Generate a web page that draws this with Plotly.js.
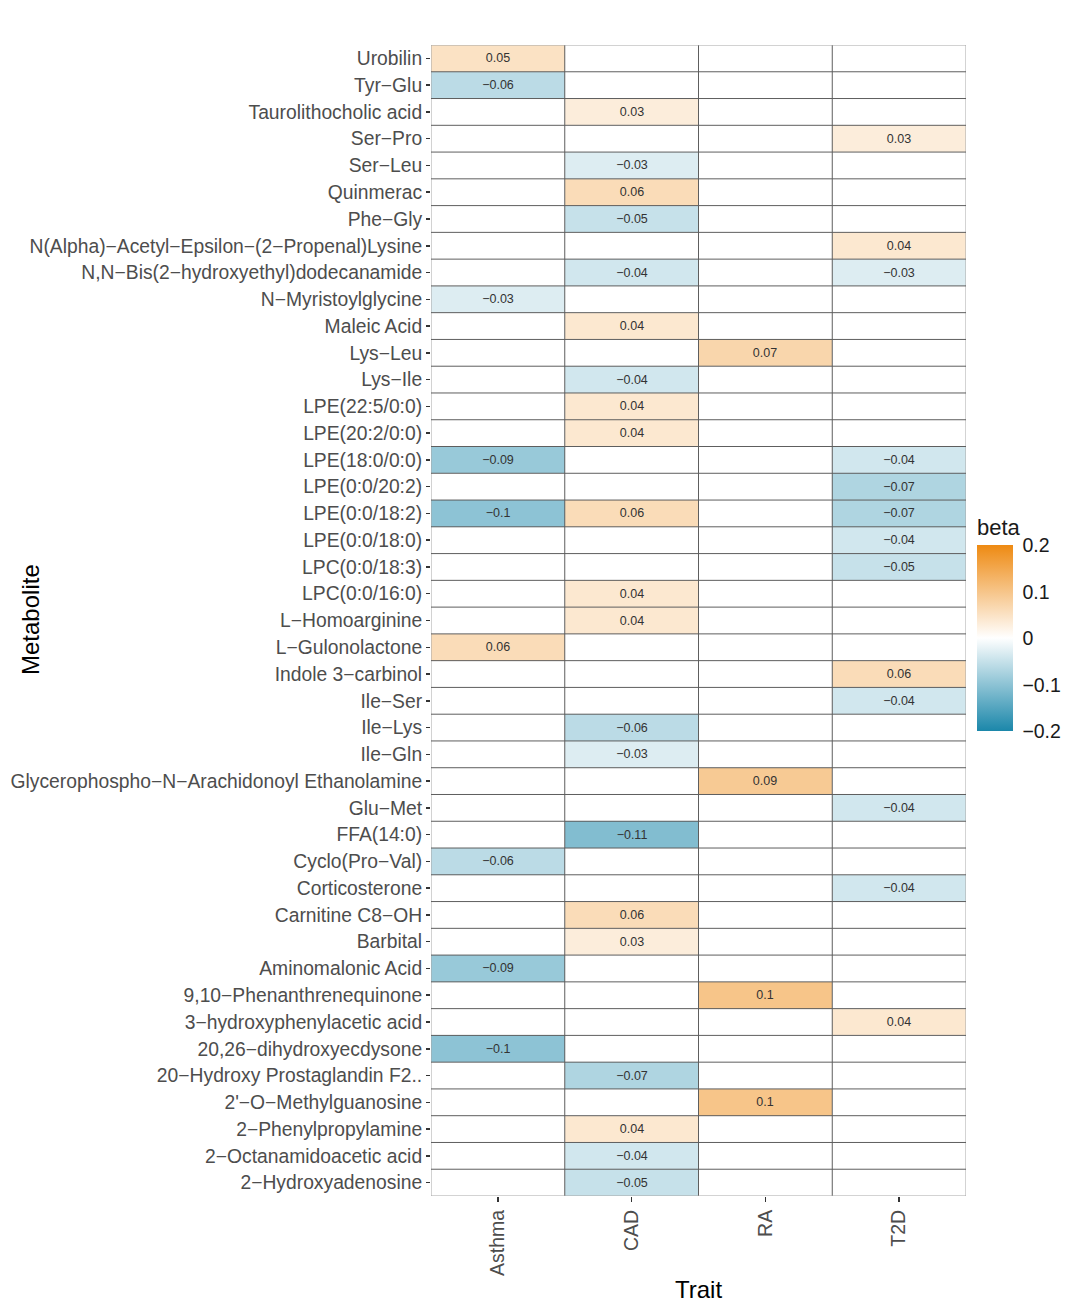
<!DOCTYPE html>
<html>
<head>
<meta charset="utf-8">
<script src="https://cdn.plot.ly/plotly-3.0.1.min.js"></script>
<style>html,body{margin:0;padding:0;background:#fff;}#chart{width:1080px;height:1316px;}</style>
</head>
<body>
<div id="chart"></div>
<script>
const metabolites = [
  "Urobilin", "Tyr-Glu", "Taurolithocholic acid", "Ser-Pro", "Ser-Leu", "Quinmerac", "Phe-Gly",
  "N(Alpha)-Acetyl-Epsilon-(2-Propenal)Lysine", "N,N-Bis(2-hydroxyethyl)dodecanamide", "N-Myristoylglycine",
  "Maleic Acid", "Lys-Leu", "Lys-Ile", "LPE(22:5/0:0)", "LPE(20:2/0:0)", "LPE(18:0/0:0)", "LPE(0:0/20:2)",
  "LPE(0:0/18:2)", "LPE(0:0/18:0)", "LPC(0:0/18:3)", "LPC(0:0/16:0)", "L-Homoarginine", "L-Gulonolactone",
  "Indole 3-carbinol", "Ile-Ser", "Ile-Lys", "Ile-Gln", "Glycerophospho-N-Arachidonoyl Ethanolamine",
  "Glu-Met", "FFA(14:0)", "Cyclo(Pro-Val)", "Corticosterone", "Carnitine C8-OH", "Barbital",
  "Aminomalonic Acid", "9,10-Phenanthrenequinone", "3-hydroxyphenylacetic acid", "20,26-dihydroxyecdysone",
  "20-Hydroxy Prostaglandin F2..", "2'-O-Methylguanosine", "2-Phenylpropylamine", "2-Octanamidoacetic acid",
  "2-Hydroxyadenosine"
];
const traits = ["Asthma", "CAD", "RA", "T2D"];

const asthma = [
  0.05, -0.06, null, null, null, null, null, null, null, -0.03,
  null, null, null, null, null, -0.09, null, -0.1, null, null,
  null, null, 0.06, null, null, null, null, null, null, null,
  -0.06, null, null, null, -0.09, null, null, -0.1, null, null,
  null, null, null
];
const cad = [
  null, null, 0.03, null, -0.03, 0.06, -0.05, null, -0.04, null,
  0.04, null, -0.04, 0.04, 0.04, null, null, 0.06, null, null,
  0.04, 0.04, null, null, null, -0.06, -0.03, null, null, -0.11,
  null, null, 0.06, 0.03, null, null, null, null, -0.07, null,
  0.04, -0.04, -0.05
];
const ra = [
  null, null, null, null, null, null, null, null, null, null,
  null, 0.07, null, null, null, null, null, null, null, null,
  null, null, null, null, null, null, null, 0.09, null, null,
  null, null, null, null, null, 0.1, null, null, null, 0.1,
  null, null, null
];
const t2d = [
  null, null, null, 0.03, null, null, null, 0.04, -0.03, null,
  null, null, null, null, null, -0.04, -0.07, -0.07, -0.04, -0.05,
  null, null, null, 0.06, -0.04, null, null, null, -0.04, null,
  null, -0.04, null, null, null, null, 0.04, null, null, null,
  null, null, null
];
const legendTicks = [-0.2, -0.1, 0, 0.1, 0.2];

const minus = s => String(s).replace(/-/g, "\u2212");
const series = [asthma, cad, ra, t2d];
const z = metabolites.map((m, i) => series.map(s => s[i]));
const txt = z.map(r => r.map(v => v === null ? "" : minus(v)));

const FONT = "Liberation Sans, Arial, sans-serif";
const nR = metabolites.length, nC = traits.length;

const shapes = [];
for (let c = 0; c <= nC; c++) {
  const outer = (c === 0 || c === nC);
  shapes.push({type: "line", xref: "x", yref: "y", x0: c - 0.5, x1: c - 0.5, y0: -0.5, y1: nR - 0.5,
    line: {color: outer ? "#a6a6a6" : "#5e5e5e", width: 1}, layer: "above"});
}
for (let r = 0; r <= nR; r++) {
  const outer = (r === 0 || r === nR);
  shapes.push({type: "line", xref: "x", yref: "y", x0: -0.5, x1: nC - 0.5, y0: r - 0.5, y1: r - 0.5,
    line: {color: outer ? "#a6a6a6" : "#5e5e5e", width: 1}, layer: "above"});
}

const trace = {
  type: "heatmap",
  x: traits,
  y: metabolites,
  z: z,
  text: txt,
  texttemplate: "%{text}",
  textfont: {family: FONT, size: 12.5, color: "#333333"},
  zmin: -0.2, zmax: 0.2,
  colorscale: [[0, "#1B87AA"], [0.5, "#FFFFFF"], [1, "#EE8A12"]],
  hoverongaps: false,
  colorbar: {
    title: {text: "beta", side: "top", font: {family: FONT, size: 22, color: "#1a1a1a"}},
    tickvals: legendTicks,
    ticktext: legendTicks.map(minus),
    tickfont: {family: FONT, size: 19.5, color: "#1a1a1a"},
    ticks: "outside", ticklen: 6, tickcolor: "#ffffff", tickwidth: 1,
    thickness: 36, thicknessmode: "pixels",
    len: 216, lenmode: "pixels",
    x: 1.0206, xanchor: "left", xref: "paper",
    y: 0.4974, yanchor: "middle", yref: "paper",
    outlinewidth: 0, ypad: 0, xpad: 0
  }
};

const layout = {
  width: 1080, height: 1316,
  margin: {l: 431, r: 114, t: 45, b: 120},
  paper_bgcolor: "#ffffff", plot_bgcolor: "#ffffff",
  font: {family: FONT},
  xaxis: {
    type: "category", categoryorder: "array", categoryarray: traits,
    range: [-0.5, nC - 0.5], showgrid: false, zeroline: false, showline: false,
    ticks: "outside", ticklen: 5, tickwidth: 1.5, tickcolor: "#333333",
    tickangle: -90, tickfont: {family: FONT, size: 19.5, color: "#4d4d4d"},
    title: {text: "Trait", font: {family: FONT, size: 24, color: "#000000"}, standoff: 6},
    automargin: false, fixedrange: true
  },
  yaxis: {
    type: "category", categoryorder: "array", categoryarray: metabolites,
    tickvals: metabolites, ticktext: metabolites.map(minus),
    range: [nR - 0.5, -0.5], showgrid: false, zeroline: false, showline: false,
    ticks: "outside", ticklen: 4, tickwidth: 1.5, tickcolor: "#333333",
    tickfont: {family: FONT, size: 19.3, color: "#4d4d4d"},
    ticklabelstandoff: 0,
    automargin: false, fixedrange: true
  },
  shapes: shapes,
  annotations: [{
    text: "Metabolite", xref: "paper", yref: "paper",
    x: (30 - 431) / 535, y: (1196 - 620) / 1151, xanchor: "center", yanchor: "middle",
    textangle: -90, showarrow: false, font: {family: FONT, size: 24, color: "#000000"}
  }]
};

Plotly.newPlot("chart", [trace], layout, {displayModeBar: false, staticPlot: true});
</script>
</body>
</html>
